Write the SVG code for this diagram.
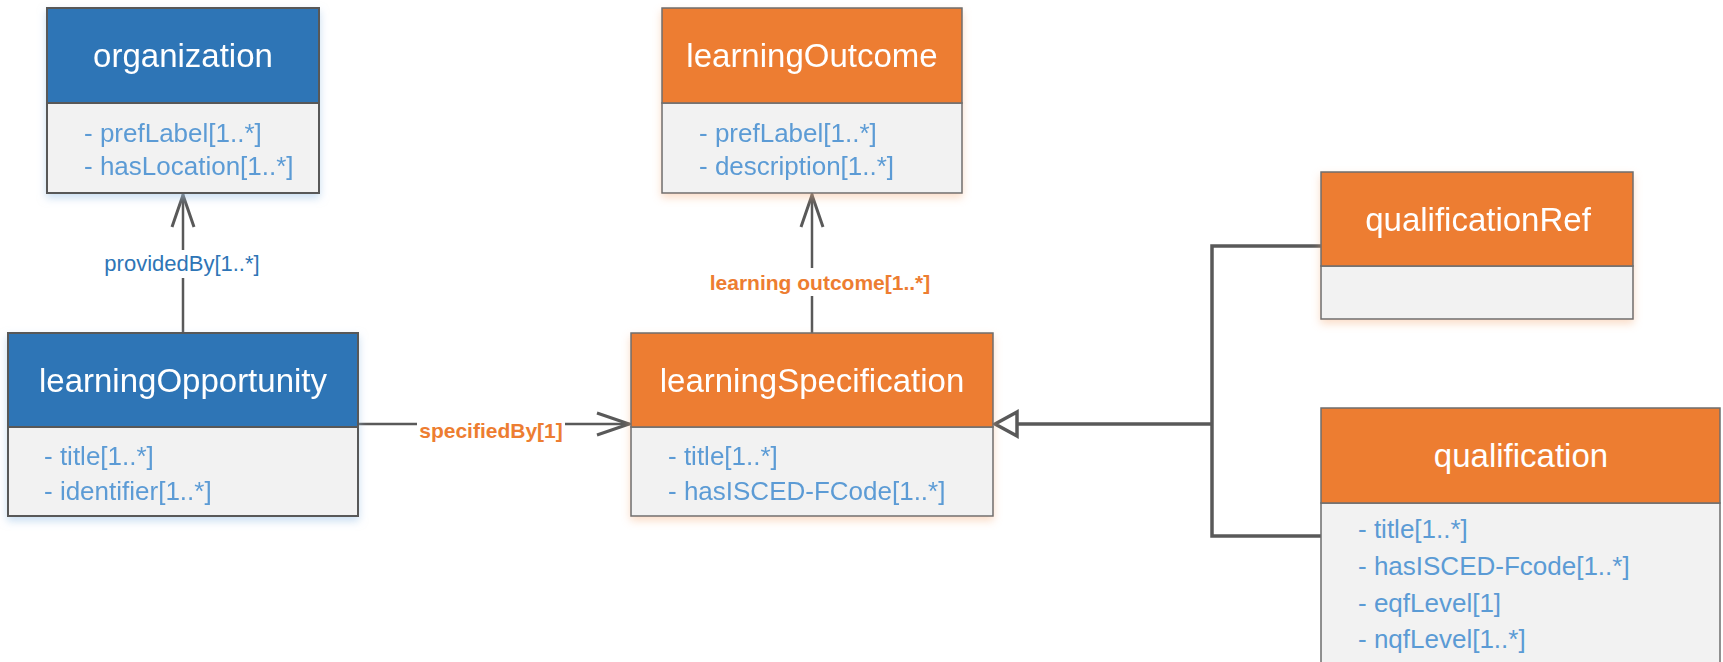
<svg xmlns="http://www.w3.org/2000/svg" width="1723" height="662" viewBox="0 0 1723 662">
<style>
.hdrB{fill:#2E75B6;stroke:#595959;stroke-width:2}
.hdrO{fill:#ED7D31;stroke:#6E6E6E;stroke-width:1.5}
.bodyB{fill:#F2F2F2;stroke:#595959;stroke-width:2}
.bodyO{fill:#F2F2F2;stroke:#6E6E6E;stroke-width:1.5}
.title{font-family:"Liberation Sans",Arial,sans-serif;font-size:33px;fill:#FFFFFF;text-anchor:middle}
.attr{font-family:"Liberation Sans",Arial,sans-serif;font-size:26px;fill:#5B9BD5}
.lblB{font-family:"Liberation Sans",Arial,sans-serif;font-size:22px;fill:#2E75B6;text-anchor:middle}
.lblO{font-family:"Liberation Sans",Arial,sans-serif;font-size:21px;font-weight:bold;fill:#ED7D31;text-anchor:middle}
.line{fill:none;stroke:#595959;stroke-width:2.5}
.gen{fill:none;stroke:#595959;stroke-width:3.5}
</style>
<defs>
<filter id="shB" x="-10%" y="-10%" width="120%" height="130%">
<feDropShadow dx="0" dy="4" stdDeviation="4" flood-color="#9DC3E6" flood-opacity="0.55"/>
</filter>
<filter id="shO" x="-10%" y="-10%" width="120%" height="130%">
<feDropShadow dx="0" dy="4" stdDeviation="4" flood-color="#F4B183" flood-opacity="0.45"/>
</filter>
<marker id="open" viewBox="0 0 36 26" refX="35" refY="13" markerWidth="36" markerHeight="26" markerUnits="userSpaceOnUse" orient="auto">
<path d="M2,2 L34,13 L2,24" fill="none" stroke="#595959" stroke-width="3"/>
</marker>
</defs>

<g id="connectors">
<line class="line" x1="183" y1="333" x2="183" y2="194" marker-end="url(#open)"/>
<rect x="90" y="250" width="186" height="28" fill="#FFFFFF"/>
<text class="lblB" x="182" y="271">providedBy[1..*]</text>

<line class="line" x1="358" y1="424" x2="630" y2="424" marker-end="url(#open)"/>
<rect x="417" y="412" width="148" height="28" fill="#FFFFFF"/>
<text class="lblO" x="491" y="438">specifiedBy[1]</text>

<line class="line" x1="812" y1="333" x2="812" y2="194" marker-end="url(#open)"/>
<rect x="704" y="268" width="232" height="28" fill="#FFFFFF"/>
<text class="lblO" x="820" y="290">learning outcome[1..*]</text>

<polyline class="gen" points="1322,246 1212,246 1212,536 1322,536"/>
<line class="gen" x1="1212" y1="424" x2="1017" y2="424"/>
<polygon points="995,424 1017,412 1017,436" fill="#FFFFFF" stroke="#595959" stroke-width="3.5" stroke-linejoin="miter"/>
</g>

<g id="organization" filter="url(#shB)">
<rect class="bodyB" x="47" y="103" width="272" height="90"/>
<rect class="hdrB" x="47" y="8" width="272" height="95"/>
<text class="title" x="183" y="67">organization</text>
<text class="attr" x="84" y="142">- prefLabel[1..*]</text>
<text class="attr" x="84" y="175">- hasLocation[1..*]</text>
</g>

<g id="learningOpportunity" filter="url(#shB)">
<rect class="bodyB" x="8" y="427" width="350" height="89"/>
<rect class="hdrB" x="8" y="333" width="350" height="94"/>
<text class="title" x="183" y="392">learningOpportunity</text>
<text class="attr" x="44" y="465">- title[1..*]</text>
<text class="attr" x="44" y="500">- identifier[1..*]</text>
</g>

<g id="learningOutcome" filter="url(#shO)">
<rect class="bodyO" x="662" y="103" width="300" height="90"/>
<rect class="hdrO" x="662" y="8" width="300" height="95"/>
<text class="title" x="812" y="67">learningOutcome</text>
<text class="attr" x="699" y="142">- prefLabel[1..*]</text>
<text class="attr" x="699" y="175">- description[1..*]</text>
</g>

<g id="learningSpecification" filter="url(#shO)">
<rect class="bodyO" x="631" y="427" width="362" height="89"/>
<rect class="hdrO" x="631" y="333" width="362" height="94"/>
<text class="title" x="812" y="392">learningSpecification</text>
<text class="attr" x="668" y="465">- title[1..*]</text>
<text class="attr" x="668" y="500">- hasISCED-FCode[1..*]</text>
</g>

<g id="qualificationRef" filter="url(#shO)">
<rect class="bodyO" x="1321" y="266" width="312" height="53"/>
<rect class="hdrO" x="1321" y="172" width="312" height="94"/>
<text class="title" x="1478" y="231">qualificationRef</text>
</g>

<g id="qualification">
<rect class="bodyO" x="1321" y="503" width="399" height="180"/>
<rect class="hdrO" x="1321" y="408" width="399" height="95"/>
<text class="title" x="1521" y="467">qualification</text>
<text class="attr" x="1358" y="538">- title[1..*]</text>
<text class="attr" x="1358" y="575">- hasISCED-Fcode[1..*]</text>
<text class="attr" x="1358" y="612">- eqfLevel[1]</text>
<text class="attr" x="1358" y="648">- nqfLevel[1..*]</text>
</g>
</svg>
